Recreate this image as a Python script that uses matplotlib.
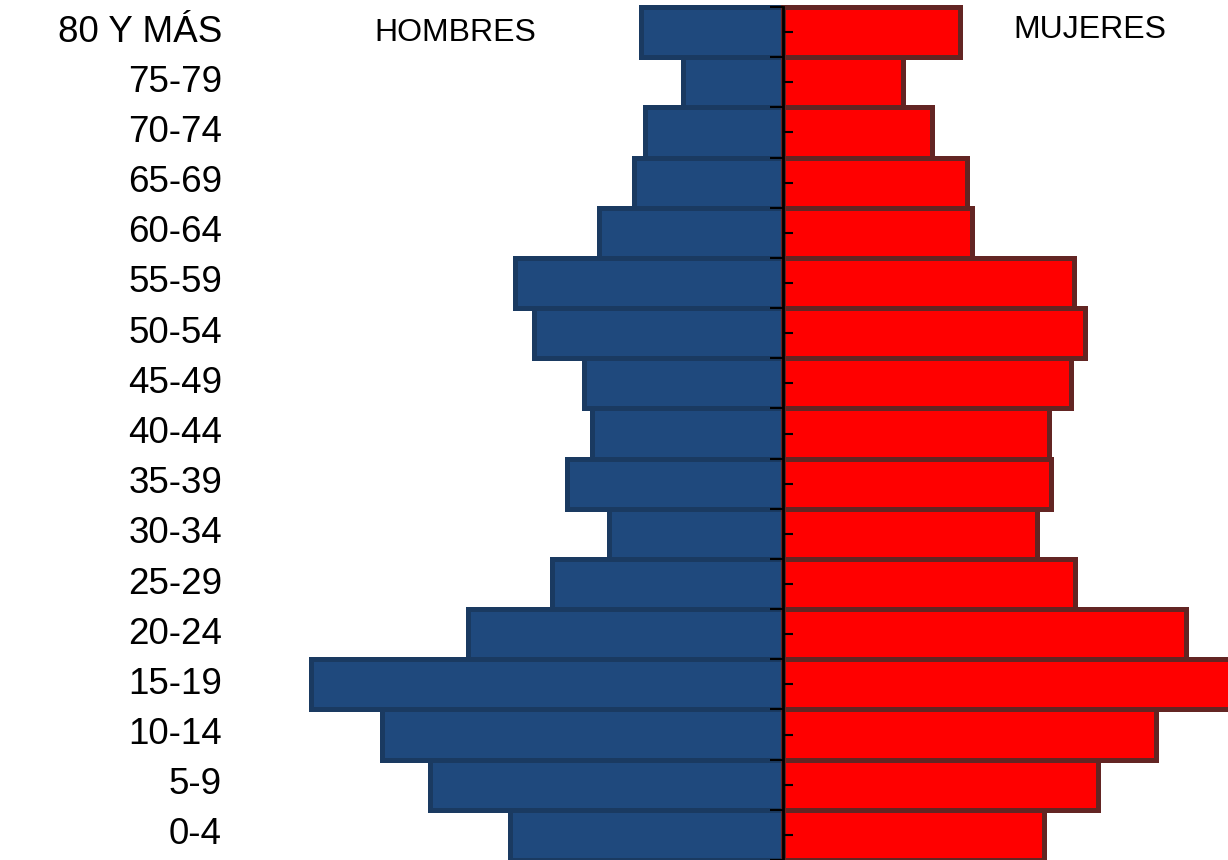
import numpy as np
import matplotlib
matplotlib.use('Agg')
import matplotlib.pyplot as plt
from matplotlib.ticker import FixedLocator

plt.rcParams['font.family'] = ['Liberation Sans', 'DejaVu Sans']

# grupos de edad, de abajo hacia arriba
grupos = ['0-4', '5-9', '10-14', '15-19', '20-24', '25-29', '30-34', '35-39',
          '40-44', '45-49', '50-54', '55-59', '60-64', '65-69', '70-74',
          '75-79', '80 Y MÁS']
hombres = [273, 353, 401, 472, 315, 231, 174, 216, 191, 199, 249, 268,
           184, 149, 138, 100, 142]
mujeres = [261, 315, 373, 448, 403, 292, 254, 268, 266, 288, 302, 291,
           189, 184, 149, 120, 177]

y = np.arange(len(grupos))

fig = plt.figure(figsize=(12.28, 8.6), dpi=100)
ax = fig.add_axes([0, 0, 1, 1])

ax.barh(y, -np.array(hombres), height=1.0, color='#1F497D',
        edgecolor='#1A3A61', linewidth=3.6)
ax.barh(y, mujeres, height=1.0, color='#FF0000',
        edgecolor='#632523', linewidth=3.6)

ax.set_xlim(-783, 445)
ax.set_ylim(-0.5, len(grupos) - 0.5 + 0.14)

# eje central
for s in ['top', 'right', 'bottom']:
    ax.spines[s].set_visible(False)
ax.spines['left'].set_position(('data', 0))
ax.spines['left'].set_bounds(-0.5, len(grupos) - 0.5)
ax.spines['left'].set_linewidth(2)
ax.spines['left'].set_color('black')
ax.spines['left'].set_zorder(5)
ax.set_xticks([])
ax.yaxis.set_major_locator(FixedLocator(np.arange(len(grupos) + 1) - 0.5))
ax.yaxis.set_minor_locator(FixedLocator(y))
ax.tick_params(axis='y', which='major', direction='out', length=9.5, width=1.5,
               labelleft=False)
ax.tick_params(axis='y', which='minor', direction='in', length=7, width=1.5,
               labelleft=False)
ax.yaxis.set_zorder(6)

for i, g in enumerate(grupos):
    ax.text(-561, i, g, ha='right', va='center', fontsize=26.5, color='black')

fig.text(455 / 1228, 1 - 33 / 860, 'HOMBRES', ha='center', va='center', fontsize=23)
fig.text(1090 / 1228, 1 - 30 / 860, 'MUJERES', ha='center', va='center', fontsize=23)

fig.savefig('out.png', dpi=100)
